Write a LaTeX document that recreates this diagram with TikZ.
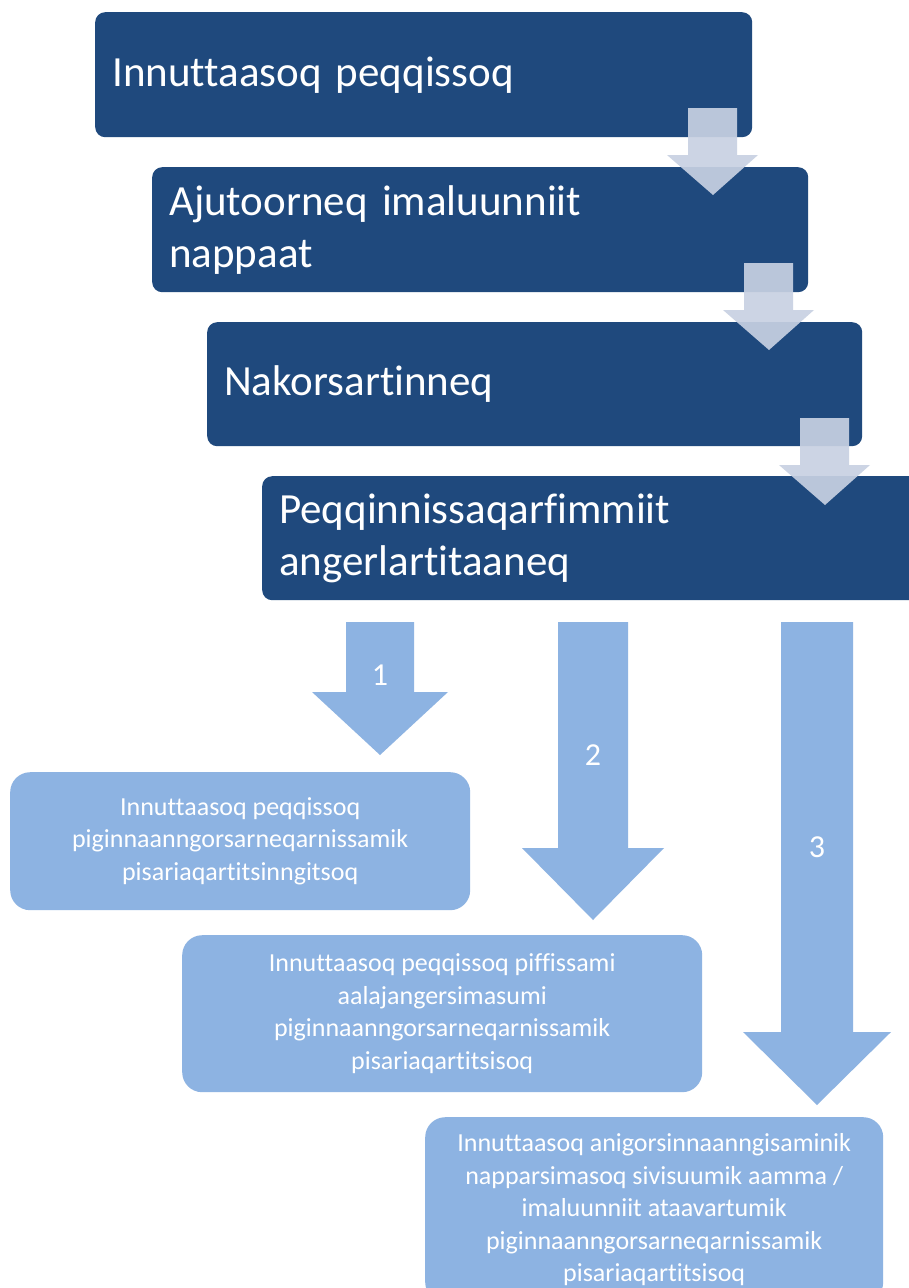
\documentclass[tikz,border=0pt]{standalone}
\usepackage{fontspec}
\setmainfont[Ligatures=NoCommon]{Carlito}
\definecolor{boxdark}{RGB}{31,73,125}
\definecolor{boxlight}{RGB}{141,179,226}
\definecolor{arrowpale}{RGB}{200,209,226}

\begin{document}
\begin{tikzpicture}[x=1pt, y=-1pt,
  darkbox/.style={fill=boxdark, rounded corners=10pt, anchor=north west, inner xsep=17pt, align=left, text=white, font=\fontsize{43}{52}\selectfont},
  lightbox/.style={fill=boxlight, rounded corners=20pt, anchor=north west, align=center, text=white, font=\fontsize{26}{32.5}\selectfont},
  palearrow/.style={fill=arrowpale, opacity=0.92},
  bluearrow/.style={fill=boxlight},
  numlabel/.style={text=white, font=\fontsize{32}{36}\selectfont}]
\useasboundingbox (0,0) rectangle (909,1288);
\fill[white] (0,0) rectangle (909,1288);

% Steps - dark boxes stepping down to the right
\node[darkbox, text width=623pt, minimum height=125pt] (step1) at (95,12) {Innuttaasoq peqqissoq};
\node[darkbox, text width=622pt, minimum height=125pt] (step2) at (152,167) {Ajutoorneq imaluunniit\\nappaat};
\node[darkbox, text width=621pt, minimum height=124pt] (step3) at (207,322) {Nakorsartinneq};
\node[darkbox, text width=626pt, minimum height=124pt] (step4) at (262,476) {Peqqinnissaqarfimmiit\\angerlartitaaneq};

% Pale arrows between steps
\fill[palearrow] (688,108) -- (737,108) -- (737,155) -- (758,155) -- (713,195) -- (667,155) -- (688,155) -- cycle;
\fill[palearrow] (744,263) -- (793,263) -- (793,310) -- (814,310) -- (769,350) -- (723,310) -- (744,310) -- cycle;
\fill[palearrow] (800,418) -- (849,418) -- (849,465) -- (870,465) -- (825,505) -- (779,465) -- (800,465) -- cycle;

% Outcomes
\node[lightbox, minimum width=460pt, minimum height=138pt] (out1) at (10,772) {Innuttaasoq peqqissoq\\piginnaanngorsarneqarnissamik\\pisariaqartitsinngitsoq};
\node[lightbox, minimum width=520pt, minimum height=157pt] (out2) at (182,935) {Innuttaasoq peqqissoq piffissami\\aalajangersimasumi\\piginnaanngorsarneqarnissamik\\pisariaqartitsisoq};
\node[lightbox, minimum width=458pt, minimum height=185pt] (out3) at (425,1117) {Innuttaasoq anigorsinnaanngisaminik\\napparsimasoq sivisuumik aamma /\\imaluunniit ataavartumik\\piginnaanngorsarneqarnissamik\\pisariaqartitsisoq};

% Blue arrows to outcomes
\fill[bluearrow] (346,622) -- (414,622) -- (414,692) -- (448,692) -- (380,755) -- (312,692) -- (346,692) -- cycle;
\fill[bluearrow] (558,622) -- (628,622) -- (628,848) -- (664,848) -- (593,920) -- (522,848) -- (558,848) -- cycle;
\fill[bluearrow] (781,622) -- (853,622) -- (853,1032) -- (891,1032) -- (817,1105) -- (743,1032) -- (781,1032) -- cycle;

\node[numlabel] (one) at (380,675) {1};
\node[numlabel] (two) at (593,755) {2};
\node[numlabel] (three) at (817,847) {3};
\end{tikzpicture}
\end{document}
